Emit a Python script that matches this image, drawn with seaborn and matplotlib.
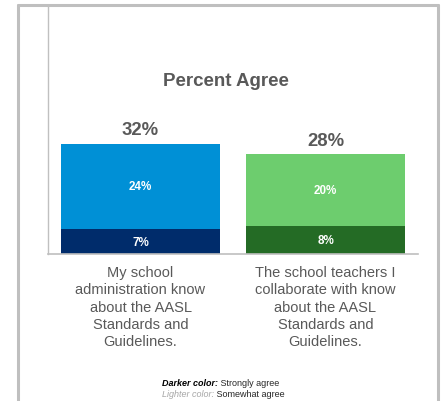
import matplotlib
matplotlib.use("Agg")
import matplotlib.pyplot as plt
import seaborn as sns
import pandas as pd
from matplotlib.lines import Line2D

categories = ["My school\nadministration know\nabout the AASL\nStandards and\nGuidelines.",
              "The school teachers I\ncollaborate with know\nabout the AASL\nStandards and\nGuidelines."]
strongly_agree = [7, 8]
somewhat_agree = [24, 20]
total_labels = ["32%", "28%"]
dark_colors = ["#002C6B", "#246B25"]
light_colors = ["#0090D6", "#6DCD6E"]

sns.set_theme(style="white")
plt.rcParams["font.family"] = ["Liberation Sans", "DejaVu Sans"]

df = pd.DataFrame({
    "cat": categories,
    "dark": strongly_agree,
    "light": somewhat_agree,
})
df["total"] = df["dark"] + df["light"]

fig = plt.figure(figsize=(4.43, 4.02), dpi=100)
ax = fig.add_axes([48/443, 1-255/402, (418-48)/443, (255-6)/402])

sns.barplot(data=df, x="cat", y="total", hue="cat", palette=light_colors,
            width=0.856, linewidth=0, saturation=1, legend=False, ax=ax)
sns.barplot(data=df, x="cat", y="dark", hue="cat", palette=dark_colors,
            width=0.856, linewidth=0, saturation=1, legend=False, ax=ax)

ax.set_xlim(-0.5, 1.5)
ax.set_ylim(0, 70)
ax.set_xlabel("")
ax.set_ylabel("")
ax.set_yticks([])
ax.set_xticks([0, 1])
ax.set_xticklabels(categories, fontsize=10.5, color="#595959")
for lbl in ax.get_xticklabels():
    lbl.set_linespacing(1.3)
ax.tick_params(axis="x", length=0, pad=8)
for s in ["top", "right"]:
    ax.spines[s].set_visible(False)
ax.spines["left"].set_color("#C0C0C0")
ax.spines["left"].set_linewidth(1.0)
ax.spines["bottom"].set_color("#BFBFBF")
ax.spines["bottom"].set_linewidth(1.2)

for i in range(len(categories)):
    d = strongly_agree[i]
    l = somewhat_agree[i]
    ax.text(i, d / 2, f"{d}%", ha="center", va="center", color="white",
            fontsize=8.4, fontweight="bold")
    ax.text(i, d + l / 2, f"{l}%", ha="center", va="center", color="white",
            fontsize=8.4, fontweight="bold")
    ax.annotate(total_labels[i], (i, d + l), xytext=(0, 4), textcoords="offset points",
                ha="center", va="bottom", color="#595959", fontsize=13.3, fontweight="bold")

fig.text(226/443, 1-81/402, "Percent Agree", ha="center", va="center",
         fontsize=13.5, fontweight="bold", color="#595959")

# legend note
t1 = fig.text(162/443, 1-384/402, "Darker color:", ha="left", va="center",
              fontsize=6.5, fontweight="bold", style="italic", color="#000000")
ax.annotate(" Strongly agree", xy=(1, 0.5), xycoords=t1, ha="left", va="center",
            fontsize=6.5, color="#262626", annotation_clip=False)
t2 = fig.text(162/443, 1-395/402, "Lighter color:", ha="left", va="center",
              fontsize=6.5, style="italic", color="#A6A6A6")
ax.annotate(" Somewhat agree", xy=(1, 0.5), xycoords=t2, ha="left", va="center",
            fontsize=6.5, color="#262626", annotation_clip=False)

# outer frame
W, H = 443, 402
frame_kw = dict(color="#BFBFBF", linewidth=2.2, transform=fig.transFigure)
fig.add_artist(Line2D([17.5/W, 17.5/W], [0, 1-5.5/H], **frame_kw))
fig.add_artist(Line2D([17.5/W, 438/W], [1-5.5/H, 1-5.5/H], **frame_kw))
fig.add_artist(Line2D([438/W, 438/W], [0, 1-5.5/H], **frame_kw))

fig.savefig("out.png", dpi=100)
